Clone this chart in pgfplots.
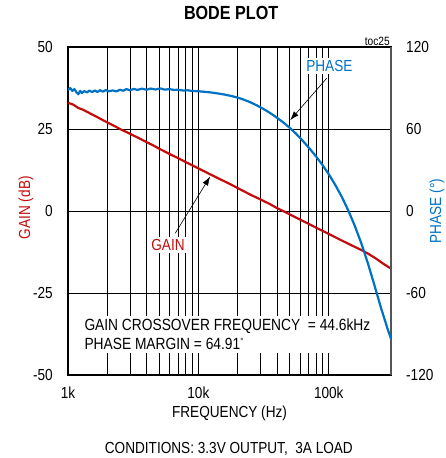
\documentclass[border=0pt]{standalone}
\usepackage{fontspec}
\setmainfont{Liberation Sans}[FakeStretch=0.85]
\usepackage{pgfplots}
\usepackage{pgfplotstable}
\pgfplotsset{compat=1.18}
\usetikzlibrary{arrows.meta}
\definecolor{gainred}{RGB}{196,12,12}
\definecolor{phaseblue}{RGB}{0,114,198}
\definecolor{rightgray}{RGB}{85,85,85}

\pgfplotstableread{
f g
1000 33.0
1100 32.4
1200 31.4
1300 30.9
1500 29.6
1700 28.5
2000 27.0
2300 25.8
2500 25.0
2800 24.1
3000 23.5
3500 22.2
4000 21.0
4500 20.0
5000 19.0
6000 17.4
7000 16.1
8000 14.9
9000 13.9
10000 13.0
12000 11.4
15000 9.5
17500 8.2
20000 7.0
25000 5.0
30000 3.5
35000 2.2
40000 0.9
44600 0.0
50000 -1.0
60000 -2.6
70000 -3.9
80000 -5.1
90000 -6.1
100000 -7.0
120000 -8.6
150000 -10.5
180000 -12.0
200000 -13.0
230000 -14.5
260000 -16.0
300000 -17.6
}\gaintable

\pgfplotstableread{
f p
1000 88.5
1040 90.0
1080 87.8
1120 89.2
1160 86.9
1200 85.4
1240 87.9
1280 86.3
1330 87.7
1400 86.8
1460 88.1
1530 87.0
1600 88.2
1680 87.1
1760 88.4
1850 87.3
1950 88.5
2050 87.6
2200 88.2
2350 87.5
2500 88.7
2650 88.0
2800 89.2
3000 88.3
3200 89.4
3400 88.6
3700 89.5
4000 88.7
4300 89.6
4700 88.9
5100 89.7
5500 88.8
6000 89.2
6500 88.6
7000 88.7
7600 88.2
8300 88.3
9000 87.8
10000 87.6
11220 87.2
12589 86.7
14125 86.0
15849 85.2
17783 84.2
19953 83.0
22387 81.4
25119 79.5
28184 77.2
31623 74.6
35481 71.7
39811 68.4
44668 64.9
50119 60.9
56234 56.4
63096 51.4
70795 46.0
79433 40.2
89125 33.9
100000 26.9
112202 19.0
125893 10.3
141254 0.3
158489 -11.0
177828 -23.8
199526 -38.3
223872 -54.3
251189 -70.8
281838 -86.0
300000 -93.6
}\phasetable

\begin{document}
\begin{tikzpicture}
\path[use as bounding box] (-68pt,-83pt) rectangle (377pt,375pt);
\begin{axis}[
  scale only axis, width=323pt, height=328pt,
  xmode=log, xmin=1000, xmax=300000,
  ymin=-50, ymax=50,
  xtick={1000,10000,100000}, xticklabels={1k,10k,100k},
  ytick={-50,-25,0,25,50}, yticklabels={-50,-25,0,25,50},
  grid=both,
  major grid style={black, line width=0.7pt},
  minor grid style={black, line width=0.7pt},
  major tick length=0pt, minor tick length=0pt,
  axis line style={line width=2pt},
  tick label style={font=\fontsize{16}{19}\selectfont, inner sep=0pt},
  xticklabel style={anchor=center, yshift=-17.5pt},
  yticklabel style={anchor=east, xshift=-15pt},
  clip mode=individual,
  title={BODE PLOT},
  title style={font=\fontsize{19}{22}\selectfont\bfseries, at={(axis description cs:0.505,1.0845)}, anchor=center},
  xlabel={FREQUENCY (Hz)},
  xlabel style={font=\fontsize{16}{19}\selectfont, at={(axis description cs:0.5,-0.116)}, anchor=center},
  ylabel={GAIN (dB)},
  ylabel style={font=\fontsize{16}{19}\selectfont, text=gainred, at={(axis description cs:-0.130,0.51)}, anchor=center},
]
\addplot[gainred, line width=2.2pt] table[x=f, y=g] {\gaintable};
\node[font=\fontsize{12}{14}\selectfont, anchor=south east, inner sep=1pt] at (rel axis cs:1,1) {toc25};
\node[font=\fontsize{16}{19}\selectfont, text=phaseblue, fill=white, inner sep=2pt] at (axis cs:101000,44.2) {PHASE};
\draw[-{Latex[length=9pt,width=6pt]}, line width=0.6pt] (axis cs:96500,40.5) -- (axis cs:50600,27.7);
\node[font=\fontsize{16}{19}\selectfont, text=gainred, fill=white, inner sep=2pt] at (axis cs:5850,-10.4) {GAIN};
\draw[-{Latex[length=9pt,width=6pt]}, line width=0.6pt] (axis cs:6640,-6.8) -- (axis cs:12300,10.5);
\node[font=\fontsize{16.2}{18.5}\selectfont, fill=white, anchor=west, align=left, inner sep=3pt] at (axis cs:1265,-37.6) {GAIN CROSSOVER FREQUENCY \ = 44.6kHz\\PHASE MARGIN = 64.91\raisebox{0.6ex}{\fontsize{9}{9}\selectfont°}};
\node[font=\fontsize{16}{19}\selectfont] at (axis description cs:0.498,-0.2265) {CONDITIONS: 3.3V OUTPUT, \ 3A LOAD};
\end{axis}
\begin{axis}[
  scale only axis, width=323pt, height=328pt,
  xmode=log, xmin=1000, xmax=300000,
  ymin=-120, ymax=120,
  axis x line=none, axis y line*=right,
  ytick={-120,-60,0,60,120}, yticklabels={-120,-60,0,60,120},
  major tick length=0pt, minor tick length=0pt,
  axis line style={line width=2pt, draw=rightgray},
  tick label style={font=\fontsize{16}{19}\selectfont, inner sep=0pt},
  yticklabel style={anchor=west, xshift=15pt},
  ylabel={PHASE (°)},
  ylabel style={font=\fontsize{16}{19}\selectfont, text=phaseblue, at={(axis description cs:1.1424,0.50)}, anchor=center, rotate=0},
]
\addplot[phaseblue, line width=2.2pt, line join=round] table[x=f, y=p] {\phasetable};
\end{axis}
\end{tikzpicture}
\end{document}
